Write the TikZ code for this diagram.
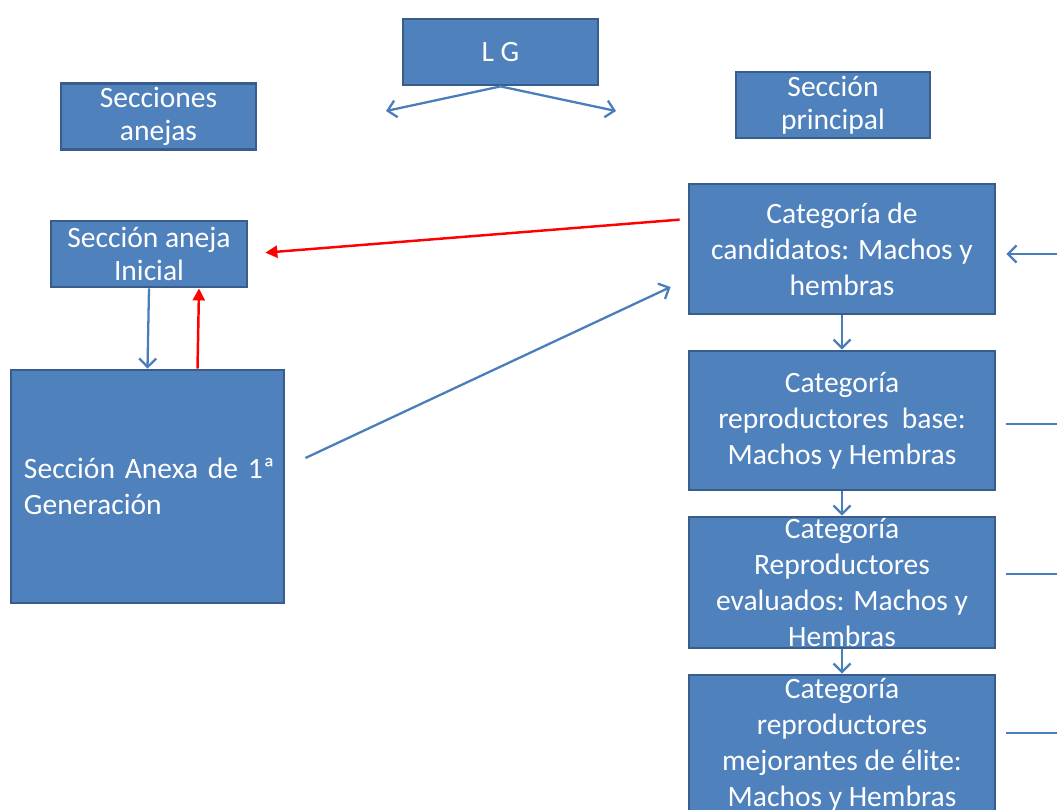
\documentclass[tikz,border=0pt]{standalone}
\usepackage{fontspec}
\setmainfont{Carlito}
\usetikzlibrary{arrows.meta,positioning}
\definecolor{cajafill}{HTML}{4F81BD}
\definecolor{cajaborde}{HTML}{385D8A}
\definecolor{flechaazul}{HTML}{4A7EBB}
\begin{document}
\begin{tikzpicture}[font=\fontsize{16.8}{20.5}\selectfont]
\tikzstyle{caja}=[rectangle,fill=cajafill,draw=cajaborde,line width=1.6pt,text=white,align=center,inner sep=0pt]
\tikzstyle{chica}=[caja,minimum width=3.9cm,minimum height=1.32cm,font=\fontsize{16.8}{19}\selectfont]
\tikzstyle{cat}=[caja,minimum width=6.12cm]
\tikzstyle{arc}=[-{Straight Barb[length=1.7mm,width=3.4mm]},draw=flechaazul,line width=1.3pt]
\tikzstyle{linea}=[draw=flechaazul,line width=1.3pt]
\tikzstyle{rojo}=[-{Triangle[length=2.4mm,width=2.4mm]},draw=red,line width=1.4pt]
\useasboundingbox (0,0) rectangle (21.14,-16.18);
%% TikZ-figure elements %%
\node[chica] at (10.01,-1.04) (lg) {L G};
\node[chica] at (3.17,-2.33) (anejas) {Secciones\\anejas};
\node[chica,minimum width=3.88cm] at (16.66,-2.1) (principal) {Sección\\principal};
\node[chica,minimum width=3.92cm] at (2.98,-5.08) (inicial) {Sección aneja\\Inicial};
\node[caja,minimum width=5.46cm,minimum height=4.66cm,text width=4.94cm,align=left] at (2.95,-9.73) (anexa) {Sección~Anexa~de~1ª\\Generación};
\node[cat,minimum height=2.6cm] at (16.84,-4.98) (cat1) {Categoría de\\candidatos: Machos y\\hembras};
\node[cat,minimum height=2.78cm] at (16.84,-8.41) (cat2) {Categoría\\reproductores~ base:\\Machos y Hembras};
\node[cat,minimum height=2.62cm] at (16.84,-11.65) (cat3) {Categoría\\Reproductores\\evaluados: Machos y\\Hembras};
\node[cat,minimum height=2.8cm] at (16.84,-14.9) (cat4) {Categoría\\reproductores\\mejorantes de élite:\\Machos y Hembras};
\coordinate (izq) at (7.72,-2.22);
\coordinate (der) at (12.32,-2.22);
\coordinate (r1) at (21.2,-5.08);
\coordinate (r2) at (21.2,-8.48);
\coordinate (r3) at (21.2,-11.48);
\coordinate (r4) at (21.2,-14.66);
\draw[arc] (lg.south) -- (izq);
\draw[arc] (lg.south) -- (der);
\draw[rojo,shorten <=0.16cm,shorten >=0.34cm] (cat1.169.6) -- (inicial.east);
\draw[arc] (inicial.south) -- (anexa.north);
\draw[rojo] ([xshift=1cm]anexa.north) -- ([xshift=1cm]inicial.south);
\draw[arc] ([shift={(0.4,0.57)}]anexa.east) -- ([shift={(-0.34,-0.76)}]cat1.west);
\draw[arc] (r1) -- ([xshift=0.2cm]cat1.east |- r1);
\foreach \a/\b in {cat1/cat2,cat2/cat3,cat3/cat4}
  \draw[arc] (\a.south) -- (\b.north);
\foreach \n/\r in {cat2/r2,cat3/r3,cat4/r4}
  \draw[linea] ([xshift=0.2cm]\n.east |- \r) -- (\r);
\end{tikzpicture}
\end{document}
